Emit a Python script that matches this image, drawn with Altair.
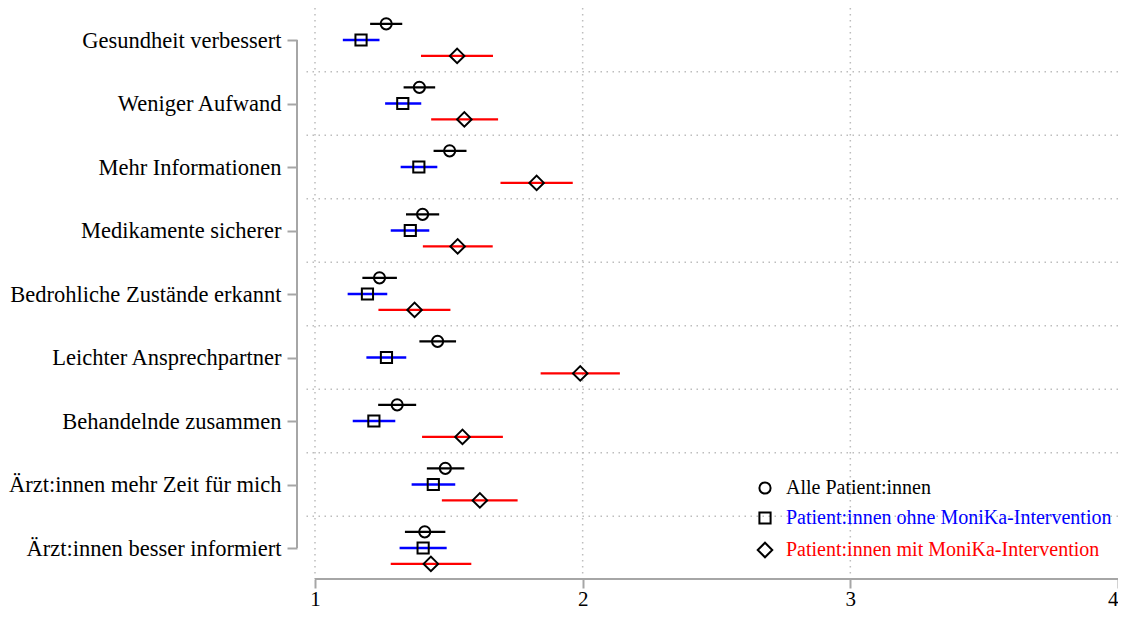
import json
import altair as alt
import pandas as pd

# ---------------- data ----------------
categories = [
    "Gesundheit verbessert",
    "Weniger Aufwand",
    "Mehr Informationen",
    "Medikamente sicherer",
    "Bedrohliche Zustände erkannt",
    "Leichter Ansprechpartner",
    "Behandelnde zusammen",
    "Ärzt:innen mehr Zeit für mich",
    "Ärzt:innen besser informiert",
]
series = [
    "Alle Patient:innen",
    "Patient:innen ohne MoniKa-Intervention",
    "Patient:innen mit MoniKa-Intervention",
]

all_mean = [1.266, 1.390, 1.503, 1.402, 1.241, 1.458, 1.307, 1.487, 1.410]
all_lo = [1.206, 1.331, 1.443, 1.340, 1.177, 1.390, 1.236, 1.418, 1.336]
all_hi = [1.326, 1.449, 1.566, 1.464, 1.306, 1.527, 1.378, 1.558, 1.487]

ohne_mean = [1.172, 1.328, 1.388, 1.356, 1.196, 1.267, 1.220, 1.442, 1.404]
ohne_lo = [1.104, 1.262, 1.320, 1.283, 1.122, 1.192, 1.141, 1.361, 1.316]
ohne_hi = [1.241, 1.397, 1.457, 1.427, 1.270, 1.341, 1.300, 1.524, 1.492]

mit_mean = [1.531, 1.558, 1.828, 1.533, 1.372, 1.991, 1.551, 1.616, 1.433]
mit_lo = [1.396, 1.434, 1.693, 1.403, 1.237, 1.843, 1.400, 1.474, 1.283]
mit_hi = [1.665, 1.684, 1.963, 1.664, 1.506, 2.139, 1.702, 1.757, 1.584]

x_ticks = [1, 2, 3, 4]
x_grid = [1, 2, 3]

# ---------------- layout / style ----------------
FONT = "Liberation Serif"
colors = ["black", "#0000FF", "#FF0000"]
DIAMOND = "M-1.3,0L0,-1.3L1.3,0L0,1.3Z"
shapes = ["circle", "square", DIAMOND]
SYMBOL_SIZE = 125
row_offset = [-0.255, 0.0, 0.25]   # vertical dodge per series (in row units)
AXIS_GRAY = "#a6a6a6"
GRID_GRAY = "#bdbdbd"
PLOT_W, PLOT_H = 815, 571

rows = []
groups = [(all_mean, all_lo, all_hi), (ohne_mean, ohne_lo, ohne_hi), (mit_mean, mit_lo, mit_hi)]
for s_i, (m, lo, hi) in enumerate(groups):
    for c_i, cat in enumerate(categories):
        rows.append({
            "category": cat,
            "series": series[s_i],
            "ypos": c_i + row_offset[s_i],
            "mean": m[c_i],
            "lo": lo[c_i],
            "hi": hi[c_i],
        })
df = pd.DataFrame(rows)

n = len(categories)
xscale = alt.Scale(domain=[0.9552, 4.0], nice=False, zero=False)
yscale = alt.Scale(domain=[-0.504, 8.488], nice=False, zero=False, reverse=True)

label_expr = json.dumps(categories, ensure_ascii=False) + "[datum.value]"

y_axis = alt.Axis(values=list(range(n)), labelExpr=label_expr, domain=False, grid=False,
                  ticks=True, tickSize=10, tickWidth=2, tickColor=AXIS_GRAY, offset=6,
                  labelFont=FONT, labelFontSize=22.5, labelColor="black", labelPadding=6,
                  labelBaseline="middle", labelLimit=0, title=None)
x_axis = alt.Axis(values=x_ticks, format="d", domain=False, grid=False, ticks=True,
                  tickSize=9, tickWidth=2, tickColor=AXIS_GRAY, labelFont=FONT,
                  labelFontSize=21, labelColor="black", labelPadding=0, title=None)

# colour scale listed in reverse order (same mapping) so that it is kept apart from the shape legend
color_scale = alt.Scale(domain=series[::-1], range=colors[::-1])

legend = alt.Legend(
    orient="none", legendX=452, legendY=470, title=None, padding=0,
    labelFont=FONT, labelFontSize=20, labelOffset=11, rowPadding=10, labelLimit=0,
    symbolSize=SYMBOL_SIZE, symbolStrokeColor="black", symbolStrokeWidth=2,
    symbolFillColor="transparent",
    labelColor=alt.ExprRef("scale('color', datum.value)"),
)

# error bars (also carry the axes)
bars = alt.Chart(df).mark_rule(strokeWidth=2.3).encode(
    x=alt.X("lo:Q", scale=xscale, axis=x_axis),
    x2="hi:Q",
    y=alt.Y("ypos:Q", scale=yscale, axis=y_axis),
    color=alt.Color("series:N", scale=color_scale, legend=None),
)

points = alt.Chart(df).mark_point(filled=False, strokeWidth=2, color="black", opacity=1,
                                  size=SYMBOL_SIZE).encode(
    x=alt.X("mean:Q", scale=xscale),
    y=alt.Y("ypos:Q", scale=yscale),
    shape=alt.Shape("series:N", scale=alt.Scale(domain=series, range=shapes), legend=legend),
)

# dotted grid lines
vgrid = alt.Chart(pd.DataFrame({"g": x_grid})).mark_rule(
    color=GRID_GRAY, strokeWidth=1.5, strokeDash=[1.5, 4.5]
).encode(x=alt.X("g:Q", scale=xscale))

hgrid = alt.Chart(pd.DataFrame({"b": [i + 0.5 for i in range(n - 1)]})).mark_rule(
    color=GRID_GRAY, strokeWidth=1.5, strokeDash=[1.5, 4.5]
).encode(y=alt.Y("b:Q", scale=yscale))

# axis lines (spanning only the data range, as in the original)
x_line = alt.Chart(pd.DataFrame({"a": [x_ticks[0]], "b": [x_ticks[-1]]})).mark_rule(
    color=AXIS_GRAY, strokeWidth=2
).encode(x=alt.X("a:Q", scale=xscale), x2="b:Q", y=alt.value(PLOT_H))

y_line = alt.Chart(pd.DataFrame({"a": [0], "b": [n - 1]})).mark_rule(
    color=AXIS_GRAY, strokeWidth=2
).encode(y=alt.Y("a:Q", scale=yscale), y2="b:Q", x=alt.value(-6))

chart = alt.layer(vgrid, hgrid, x_line, y_line, bars, points).properties(
    width=PLOT_W, height=PLOT_H,
    autosize=alt.AutoSizeParams(type="none"),
    padding={"left": 295, "top": 0, "right": 0, "bottom": 30},
).configure(background="white").configure_view(strokeWidth=0, stroke="transparent")

chart.save("out.html", embed_options={"renderer": "svg", "actions": False})
